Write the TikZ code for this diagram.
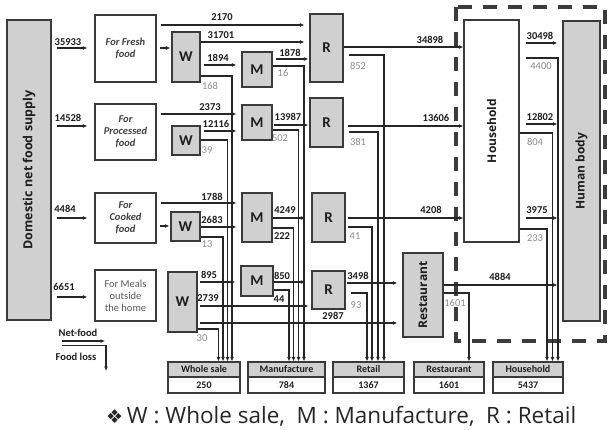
\documentclass[tikz,border=0pt]{standalone}
\usepackage{fontspec}
\setmainfont{Carlito}
\newfontfamily\capfont{Open Sans}
\newfontfamily\vfont{Open Sans}
\newfontfamily\symfont{DejaVu Sans}
\usetikzlibrary{arrows.meta}
\definecolor{bd}{HTML}{3A3A3A}
\definecolor{gf}{HTML}{D0D0D0}
\definecolor{ln}{HTML}{262626}
\definecolor{tx}{HTML}{1E1E1E}
\definecolor{gt}{HTML}{8C8C8C}
\definecolor{dsh}{HTML}{3C3C3C}
\tikzset{
  box/.style={draw=bd, line width=1.2pt, inner sep=0pt, align=center},
  gbox/.style={box, fill=gf},
  wbox/.style={box, fill=white},
  letter/.style={font=\bfseries\fontsize{15}{16}\selectfont, text=tx},
  srct/.style={font=\bfseries\itshape\fontsize{10.5}{12}\selectfont, text=tx!85},
  srcr/.style={font=\fontsize{10.5}{12}\selectfont, text=black!65},
  vtxt/.style={font=\vfont\bfseries\fontsize{12}{13}\selectfont, text=tx, rotate=90, inner sep=0pt},
  net/.style={draw=ln, line width=1.1pt, -{Latex[length=4.5pt,width=4pt]}},
  num/.style={font=\bfseries\fontsize{10.5}{11}\selectfont, text=tx, inner sep=0pt},
  gnum/.style={font=\fontsize{10.5}{11}\selectfont, text=gt, inner sep=0pt},
  hdr/.style={draw=bd, line width=1.1pt, fill=gf, inner sep=0pt, font=\bfseries\fontsize{10}{10}\selectfont, text=tx},
  val/.style={draw=bd, line width=1.1pt, fill=white, inner sep=0pt, font=\bfseries\fontsize{10}{10}\selectfont, text=tx},
  lgd/.style={font=\bfseries\fontsize{10.5}{11}\selectfont, text=tx, inner sep=0pt},
  dashbox/.style={draw=dsh, line width=3.5pt, dash pattern=on 14pt off 11pt},
}
\begin{document}
\begin{tikzpicture}[x=1pt, y=-1pt]
\fill[white] (0,0) rectangle (608,429);
\useasboundingbox (0,0) rectangle (608,429);

% dashed household region
\draw[dashbox] (456,7) rectangle (605,341);

% main boxes
\node[gbox, minimum width=44, minimum height=300] (dom) at (29,170) {};
\node[vtxt, font=\vfont\bfseries\fontsize{12.5}{13}\selectfont] (domt) at (dom.center) {Domestic net food supply};

\node[wbox, srct, minimum width=61, minimum height=67] (fresh) at (125.5,48.5) {For Fresh\\food};
\node[wbox, srct, minimum width=61, minimum height=56] (proc) at (125.5,132) {For\\Processed\\food};
\node[wbox, srct, minimum width=61, minimum height=50] (cook) at (125.5,218) {For\\Cooked\\food};
\node[wbox, srcr, minimum width=61, minimum height=51] (meals) at (125.5,295.5) {For Meals\\outside\\the home};

\node[gbox, letter, minimum width=28, minimum height=50] (W1) at (186,57) {W};
\node[gbox, letter, minimum width=28, minimum height=29] (W2) at (186,140.5) {W};
\node[gbox, letter, minimum width=29, minimum height=29] (W3) at (185.5,226.5) {W};
\node[gbox, letter, minimum width=29, minimum height=60] (W4) at (182.5,302) {W};

\node[gbox, letter, minimum width=30, minimum height=35] (M1) at (257,69.5) {M};
\node[gbox, letter, minimum width=30, minimum height=35] (M2) at (257,122.5) {M};
\node[gbox, letter, minimum width=30, minimum height=49] (M3) at (257,217.5) {M};
\node[gbox, letter, minimum width=32, minimum height=30] (M4) at (257,281) {M};

\node[gbox, letter, minimum width=33, minimum height=68] (R1) at (326.5,48) {R};
\node[gbox, letter, minimum width=33, minimum height=49] (R2) at (326.5,122.5) {R};
\node[gbox, letter, minimum width=33, minimum height=49] (R3) at (328.5,217.5) {R};
\node[gbox, letter, minimum width=33, minimum height=38] (R4) at (328.5,290) {R};

\node[gbox, minimum width=40, minimum height=84] (rest) at (423,295) {};
\node[vtxt] (restt) at (rest.center) {Restaurant};
\node[wbox, minimum width=55, minimum height=222] (hh) at (491.5,131) {};
\node[vtxt] (hht) at (hh.center) {Household};
\node[gbox, minimum width=37, minimum height=300] (hb) at (581.5,171) {};
\node[vtxt] (hbt) at (hb.center) {Human body};

% loss boxes
\node[hdr, minimum width=72, minimum height=15] (bW) at (204,369.5) {Whole sale};
\node[val, minimum width=72, minimum height=16] (bWv) at (204,385) {250};
\node[hdr, minimum width=77, minimum height=15] (bM) at (286.5,369.5) {Manufacture};
\node[val, minimum width=77, minimum height=16] (bMv) at (286.5,385) {784};
\node[hdr, minimum width=71, minimum height=15] (bR) at (368.5,369.5) {Retail};
\node[val, minimum width=71, minimum height=16] (bRv) at (368.5,385) {1367};
\node[hdr, minimum width=70, minimum height=15] (bS) at (449,369.5) {Restaurant};
\node[val, minimum width=70, minimum height=16] (bSv) at (449,385) {1601};
\node[hdr, minimum width=70, minimum height=15] (bH) at (528,369.5) {Household};
\node[val, minimum width=70, minimum height=16] (bHv) at (528,385) {5437};

% supply arrows
\draw[net, shorten <=5pt, shorten >=7pt] (dom.east |- 0,48) -- (fresh.west |- 0,48);
\draw[net, shorten <=5pt, shorten >=7pt] (dom.east |- 0,126) -- (proc.west |- 0,126);
\draw[net, shorten <=5pt, shorten >=7pt] (dom.east |- 0,218) -- (cook.west |- 0,218);
\draw[net, shorten <=5pt, shorten >=7pt] (dom.east |- 0,297) -- (meals.west |- 0,297);

\draw[net, shorten <=3pt, shorten >=1pt] (fresh.east |- 0,48) -- (W1.west |- 0,48);
\draw[net, shorten <=3pt, shorten >=1pt] (cook.east |- 0,226) -- (W3.west |- 0,226);

% to R / M from sources
\draw[net, shorten <=4pt, shorten >=5pt] (fresh.east |- 0,25) -- (R1.west |- 0,25);
\draw[net, shorten >=5pt] (W1.east |- 0,42) -- (R1.west |- 0,42);
\draw[net, shorten <=3pt, shorten >=5pt] (W1.east |- 0,65) -- (M1.west |- 0,65);
\draw[net, shorten <=4pt, shorten >=5pt] (proc.east |- 0,114) -- (M2.west |- 0,114);
\draw[net, shorten <=3pt, shorten >=5pt] (W2.east |- 0,131) -- (M2.west |- 0,131);
\draw[net, shorten <=4pt, shorten >=5pt] (cook.east |- 0,203) -- (M3.west |- 0,203);
\draw[net, shorten >=5pt] (W3.east |- 0,227) -- (M3.west |- 0,227);
\draw[net, shorten <=2pt, shorten >=5pt] (W4.east |- 0,282) -- (M4.west |- 0,282);
\draw[net, shorten <=2pt, shorten >=3pt] (W4.east |- 0,306) -- (R4.west |- 0,306);
\draw[net, shorten <=2pt, shorten >=5pt] (W4.east |- 0,323) -- (rest.west |- 0,323);

% M to R
\draw[net, shorten <=3pt, shorten >=1pt] (M1.east |- 0,59) -- (R1.west |- 0,59);
\draw[net, shorten <=1pt, shorten >=1pt] (M2.east |- 0,125) -- (R2.west |- 0,125);
\draw[net, shorten >=6pt] (M3.east |- 0,218) -- (R3.west |- 0,218);
\draw[net, shorten >=6pt] (M4.east |- 0,282) -- (R4.west |- 0,282);

% R to household / restaurant
\draw[net] (R1.east |- 0,47) -- (hh.west |- 0,47);
\draw[net, shorten <=4pt] (R2.east |- 0,126) -- (hh.west |- 0,126);
\draw[net, shorten <=2pt] (R3.east |- 0,218) -- (hh.west |- 0,218);
\draw[net, shorten <=1pt, shorten >=5pt] (R4.east |- 0,283) -- (rest.west |- 0,283);

% to human body
\draw[net, shorten <=6pt, shorten >=5pt] (hh.east |- 0,43) -- (hb.west |- 0,43);
\draw[net, shorten <=6pt, shorten >=5pt] (hh.east |- 0,124) -- (hb.west |- 0,124);
\draw[net, shorten <=6pt, shorten >=5pt] (hh.east |- 0,218) -- (hb.west |- 0,218);
\draw[net, shorten >=5pt] (rest.east |- 0,285) -- (hb.west |- 0,285);

% food loss lines
\draw[net] (W1.east |- 0,76) -| (232,0 |- bW.north);
\draw[net] (W2.east |- 0,140) -| (227.5,0 |- bW.north);
\draw[net] (W3.east |- 0,237) -| (223,0 |- bW.north);
\draw[net] (W4.east |- 0,329) -| (218.5,0 |- bW.north);
\draw[net] (M1.east |- 0,66) -| (304,0 |- bM.north);
\draw[net] (M2.east |- 0,130) -| (298.5,0 |- bM.north);
\draw[net] (M3.east |- 0,228) -| (293.5,0 |- bM.north);
\draw[net] (M4.east |- 0,290) -| (289,0 |- bM.north);
\draw[net, shorten <=5pt] (R1.east |- 0,55) -| (384,0 |- bR.north);
\draw[net, shorten <=5pt] (R2.east |- 0,132) -| (378,0 |- bR.north);
\draw[net, shorten <=2pt] (R3.east |- 0,227) -| (372,0 |- bR.north);
\draw[net, shorten <=5pt] (R4.east |- 0,293) -| (367,0 |- bR.north);
\draw[net] (rest.east |- 0,293) -| (469,0 |- bS.north);
\draw[net, shorten <=6pt] (hh.east |- 0,58) -| (558,0 |- bH.north);
\draw[net] (hh.east |- 0,133) -| (552.5,0 |- bH.north);
\draw[net] (hh.east |- 0,229) -| (547,0 |- bH.north);

% flow labels
\node[num] (t35933) at (68,42) {35933};
\node[num] (t14528) at (68,118) {14528};
\node[num] (t4484) at (65,209) {4484};
\node[num] (t6651) at (64,287) {6651};
\node[num] (t2170) at (222,17) {2170};
\node[num] (t31701) at (221,35) {31701};
\node[num] (t1894) at (218,58) {1894};
\node[num] (t1878) at (290,53) {1878};
\node[num] (t2373) at (210,107) {2373};
\node[num] (t12116) at (216,124) {12116};
\node[num] (t13987) at (288,117) {13987};
\node[num] (t34898) at (430,40) {34898};
\node[num] (t13606) at (436,118) {13606};
\node[num] (t30498) at (540,36) {30498};
\node[num] (t12802) at (540,117) {12802};
\node[num] (t1788) at (212,197) {1788};
\node[num] (t2683) at (212,220) {2683};
\node[num] (t4249) at (285,210) {4249};
\node[num] (t222) at (282,236) {222};
\node[num] (t895) at (209,275) {895};
\node[num] (t2739) at (208,298) {2739};
\node[num] (t850) at (282,276) {850};
\node[num] (t44) at (279,299) {44};
\node[num] (t3498) at (358,276) {3498};
\node[num] (t2987) at (333,316) {2987};
\node[num] (t4208) at (431,210) {4208};
\node[num] (t3975) at (537,210) {3975};
\node[num] (t4884) at (500,277) {4884};

\node[gnum] (t168) at (210,86) {168};
\node[gnum] (t16) at (283,73) {16};
\node[gnum] (t39) at (207,150) {39};
\node[gnum] (t502) at (280,138) {502};
\node[gnum] (t852) at (358,66) {852};
\node[gnum] (t381) at (358,142) {381};
\node[gnum] (t4400) at (541,66) {4400};
\node[gnum] (t804) at (535,142) {804};
\node[gnum] (t13) at (207,244) {13};
\node[gnum] (t41) at (355,236) {41};
\node[gnum] (t233) at (535,238) {233};
\node[gnum] (t93) at (356,305) {93};
\node[gnum] (t30) at (202,338) {30};
\node[gnum] (t1601) at (455,303) {1601};

% legend
\node[lgd] (tnet) at (78,333) {Net-food};
\node[lgd] (tloss) at (76,357) {Food loss};
\coordinate (ln0) at (62,341);
\coordinate (ln1) at (105,341);
\draw[net] (ln0) -- (ln1);
\coordinate (ll0) at (62,345.5);
\coordinate (ll1) at (106,371);
\draw[net] (ll0) -| (ll1);

% caption
\node[anchor=west, inner sep=0pt, text=black!85, font=\capfont\fontsize{22.5}{26}\selectfont] (cap) at (106,416) {{\symfont\fontsize{19}{20}\selectfont ❖}\,W : Whole sale,\ \ M : Manufacture,\ \ R : Retail};
\end{tikzpicture}
\end{document}
